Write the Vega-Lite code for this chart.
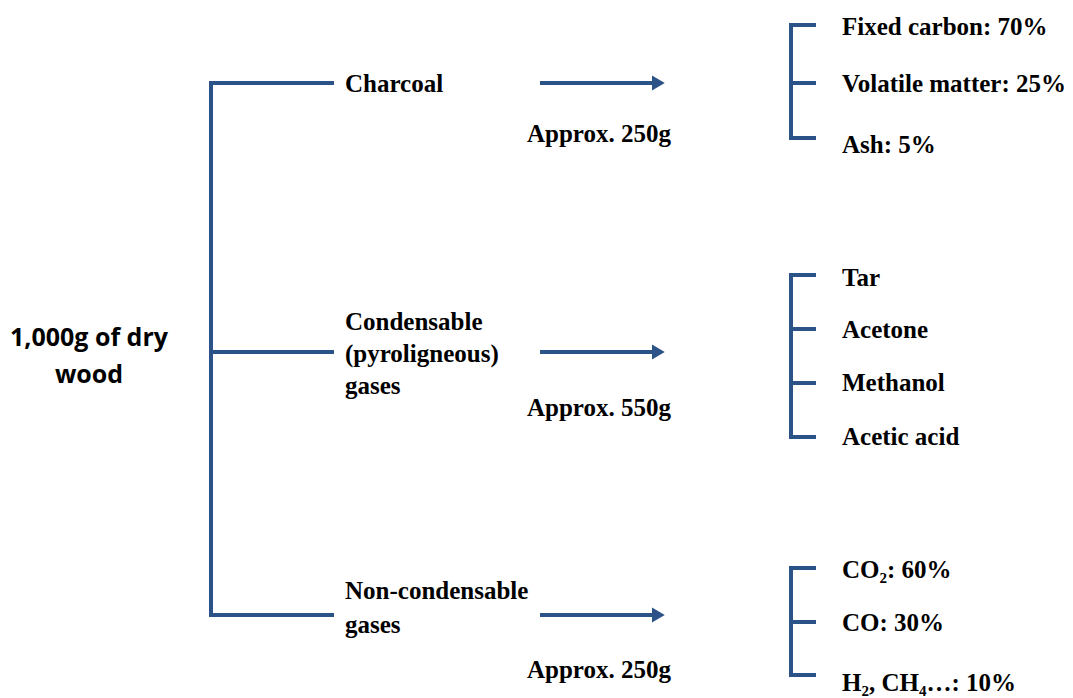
{
  "$schema": "https://vega.github.io/schema/vega-lite/v6.json",
  "width": 1073,
  "height": 698,
  "padding": 0,
  "autosize": "none",
  "background": "white",
  "config": {"view": {"stroke": null}},
  "datasets": {
    "segments": [
      {"x": 211, "y": 83, "x2": 211, "y2": 616},
      {"x": 209, "y": 83, "x2": 334, "y2": 83},
      {"x": 211, "y": 352, "x2": 334, "y2": 352},
      {"x": 209, "y": 615, "x2": 334, "y2": 615},
      {"x": 540, "y": 83, "x2": 654, "y2": 83},
      {"x": 540, "y": 352, "x2": 654, "y2": 352},
      {"x": 540, "y": 615, "x2": 654, "y2": 615},
      {"x": 791, "y": 25, "x2": 791, "y2": 138},
      {"x": 789, "y": 25, "x2": 816, "y2": 25},
      {"x": 791, "y": 83, "x2": 816, "y2": 83},
      {"x": 789, "y": 138, "x2": 816, "y2": 138},
      {"x": 791, "y": 275, "x2": 791, "y2": 437},
      {"x": 789, "y": 275, "x2": 816, "y2": 275},
      {"x": 791, "y": 329, "x2": 816, "y2": 329},
      {"x": 791, "y": 383, "x2": 816, "y2": 383},
      {"x": 789, "y": 437, "x2": 816, "y2": 437},
      {"x": 791, "y": 568, "x2": 791, "y2": 675},
      {"x": 789, "y": 568, "x2": 816, "y2": 568},
      {"x": 791, "y": 622, "x2": 816, "y2": 622},
      {"x": 789, "y": 675, "x2": 816, "y2": 675}
    ],
    "arrows": [
      {"x": 658, "y": 83},
      {"x": 658, "y": 352},
      {"x": 658, "y": 615}
    ],
    "serif": [
      {"label": "Charcoal", "x": 345, "y": 84},
      {"label": "Approx. 250g", "x": 527, "y": 134},
      {"label": "Condensable", "x": 345, "y": 322},
      {"label": "(pyroligneous)", "x": 345, "y": 354},
      {"label": "gases", "x": 345, "y": 386},
      {"label": "Approx. 550g", "x": 527, "y": 408},
      {"label": "Non-condensable", "x": 345, "y": 591},
      {"label": "gases", "x": 345, "y": 625},
      {"label": "Approx. 250g", "x": 527, "y": 670},
      {"label": "Fixed carbon: 70%", "x": 842, "y": 27},
      {"label": "Volatile matter: 25%", "x": 842, "y": 84},
      {"label": "Ash: 5%", "x": 842, "y": 145},
      {"label": "Tar", "x": 842, "y": 278},
      {"label": "Acetone", "x": 842, "y": 330},
      {"label": "Methanol", "x": 842, "y": 383},
      {"label": "Acetic acid", "x": 842, "y": 437},
      {"label": "CO₂: 60%", "x": 842, "y": 570},
      {"label": "CO: 30%", "x": 842, "y": 623},
      {"label": "H₂, CH₄…: 10%", "x": 842, "y": 683}
    ],
    "sans": [
      {"label": "1,000g of dry", "x": 89, "y": 338},
      {"label": "wood", "x": 89, "y": 375}
    ]
  },
  "layer": [
    {
      "data": {"name": "segments"},
      "mark": {"type": "rule", "color": "#2B5387", "strokeWidth": 4},
      "encoding": {
        "x": {"field": "x", "type": "quantitative", "scale": {"domain": [0, 1073]}, "axis": null},
        "y": {"field": "y", "type": "quantitative", "scale": {"domain": [0, 698], "reverse": true}, "axis": null},
        "x2": {"field": "x2"},
        "y2": {"field": "y2"}
      }
    },
    {
      "data": {"name": "arrows"},
      "mark": {"type": "point", "shape": "M-0.8,-1L0.9,0L-0.8,1Z", "filled": true, "size": 225, "color": "#2B5387", "opacity": 1},
      "encoding": {
        "x": {"field": "x", "type": "quantitative", "scale": {"domain": [0, 1073]}, "axis": null},
        "y": {"field": "y", "type": "quantitative", "scale": {"domain": [0, 698], "reverse": true}, "axis": null}
      }
    },
    {
      "data": {"name": "serif"},
      "mark": {"type": "text", "font": "Liberation Serif", "fontWeight": "bold", "fontSize": 25, "align": "left", "baseline": "middle", "color": "black"},
      "encoding": {
        "x": {"field": "x", "type": "quantitative", "scale": {"domain": [0, 1073]}, "axis": null},
        "y": {"field": "y", "type": "quantitative", "scale": {"domain": [0, 698], "reverse": true}, "axis": null},
        "text": {"field": "label"}
      }
    },
    {
      "data": {"name": "sans"},
      "mark": {"type": "text", "font": "Open Sans", "fontWeight": "bold", "fontSize": 25, "align": "center", "baseline": "middle", "color": "black"},
      "encoding": {
        "x": {"field": "x", "type": "quantitative", "scale": {"domain": [0, 1073]}, "axis": null},
        "y": {"field": "y", "type": "quantitative", "scale": {"domain": [0, 698], "reverse": true}, "axis": null},
        "text": {"field": "label"}
      }
    }
  ]
}
